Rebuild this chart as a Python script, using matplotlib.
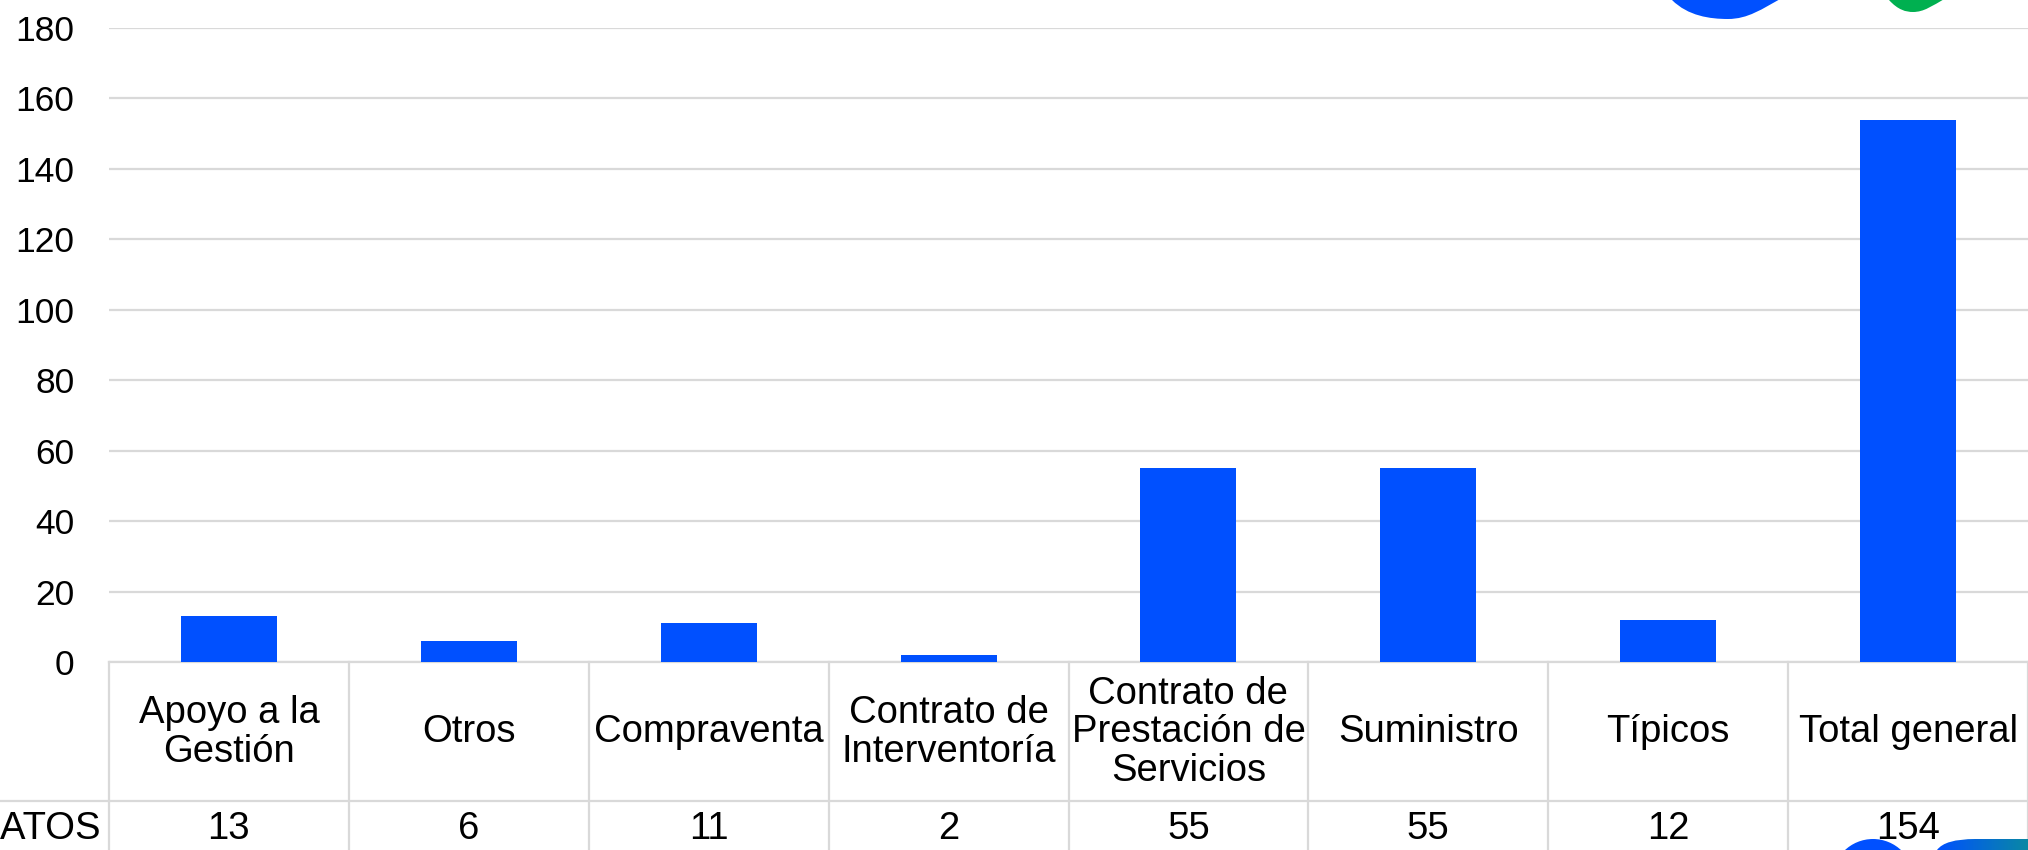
import matplotlib
matplotlib.use("Agg")
from matplotlib import pyplot as plt
from matplotlib.path import Path
from matplotlib.patches import PathPatch, Circle
from matplotlib.colors import LinearSegmentedColormap
import numpy as np

plt.rcParams['font.family'] = ['Liberation Sans', 'DejaVu Sans']

categorias = ["Apoyo a la\nGestión", "Otros", "Compraventa", "Contrato de\nInterventoría",
              "Contrato de\nPrestación de\nServicios", "Suministro", "Típicos", "Total general"]
contratos = [13, 6, 11, 2, 55, 55, 12, 154]
fila_titulo = "CONTRATOS"
yticks = [0, 20, 40, 60, 80, 100, 120, 140, 160, 180]

W, H = 2028, 850
AZUL = "#0050ff"
GRIS = "#d9d9d9"
FS_TICK = 25.5
FS_TABLA = 27.5

fig = plt.figure(figsize=(W / 100, H / 100), dpi=100)
# axes placed in pixel units: left 109, bottom 662, top 28
ax_top, ax_bot, ax_left = 28, 662, 109
ax = fig.add_axes([ax_left / W, 1 - ax_bot / H, 1 - ax_left / W, (ax_bot - ax_top) / H])

x = np.arange(len(categorias))
ax.bar(x, contratos, width=0.4, color=AZUL, zorder=3)
ax.set_xlim(-0.5, len(categorias) - 0.5)
ax.set_ylim(0, 180)
ax.set_yticks(yticks)
ax.yaxis.grid(True, color=GRIS, linewidth=1.6, zorder=0)
ax.tick_params(axis='y', length=0, pad=25, labelsize=FS_TICK)
ax.set_xticks([])
for s in ["top", "right", "left"]:
    ax.spines[s].set_visible(False)
ax.spines["bottom"].set_color(GRIS)
ax.spines["bottom"].set_linewidth(1.6)


# data table under the chart (x in data units, y in axes fraction)
def frac(ypix):
    return (ax_bot - ypix) / (ax_bot - ax_top)


tr = ax.get_xaxis_transform()
row_sep = 801
for i in range(len(categorias) + 1):
    ax.plot([i - 0.5, i - 0.5], [frac(ax_bot), frac(H + 5)], color=GRIS, lw=1.6,
            transform=tr, clip_on=False)
ax.plot([-0.5, len(categorias) - 0.5], [frac(row_sep)] * 2, color=GRIS, lw=1.6,
        transform=tr, clip_on=False)
ax.plot([-1.5, -0.5], [frac(row_sep)] * 2, color=GRIS, lw=1.6,
        transform=tr, clip_on=False)

for xi, cat, val in zip(x, categorias, contratos):
    ax.text(xi, frac((ax_bot + row_sep) / 2 + 1), cat, transform=tr, ha='center', va='center',
            fontsize=FS_TABLA, linespacing=1.1, clip_on=False)
    ax.text(xi, frac(829), str(val), transform=tr, ha='center', va='center',
            fontsize=FS_TABLA, clip_on=False)
ax.text(-0.5 - 9 / 240, frac(829), fila_titulo, transform=tr, ha='right', va='center',
        fontsize=FS_TABLA, clip_on=False)

# decorative shapes in pixel coordinates
deco = fig.add_axes([0, 0, 1, 1], zorder=10)
deco.set_xlim(0, W)
deco.set_ylim(H, 0)
deco.axis("off")

M, C, L = Path.MOVETO, Path.CURVE4, Path.LINETO
blob_azul = Path([(1672, -5), (1672, 0), (1688, 16), (1710, 19), (1728, 19),
                  (1748, 19), (1762, 9), (1782, -2), (1782, -5), (1672, -5)],
                 [M, L, C, C, C, C, C, C, L, Path.CLOSEPOLY])
deco.add_patch(PathPatch(blob_azul, color=AZUL, lw=0))
blob_verde = Path([(1889, -5), (1889, 0), (1898, 10), (1906, 12), (1913, 12),
                   (1924, 12), (1932, 6), (1946, -2), (1946, -5), (1889, -5)],
                  [M, L, C, C, C, C, C, C, L, Path.CLOSEPOLY])
deco.add_patch(PathPatch(blob_verde, color="#00b050", lw=0))

deco.add_patch(Circle((1873, 880), 41, color=AZUL, lw=0))
forma = Path([(1937, 860), (1937, 850), (1945, 839), (1975, 839), (2040, 839),
              (2040, 860), (1937, 860)],
             [M, L, Path.CURVE3, Path.CURVE3, L, L, Path.CLOSEPOLY])
grad = LinearSegmentedColormap.from_list("g", [AZUL, "#0a88a4"])
img = deco.imshow(np.linspace(0, 1, 256)[None, :], cmap=grad, aspect='auto',
                  extent=[1937, 2028, 860, 836], zorder=2)
pp = PathPatch(forma, facecolor='none', edgecolor='none')
deco.add_patch(pp)
img.set_clip_path(pp)
deco.set_xlim(0, W)
deco.set_ylim(H, 0)

fig.savefig("out.png", dpi=100)
